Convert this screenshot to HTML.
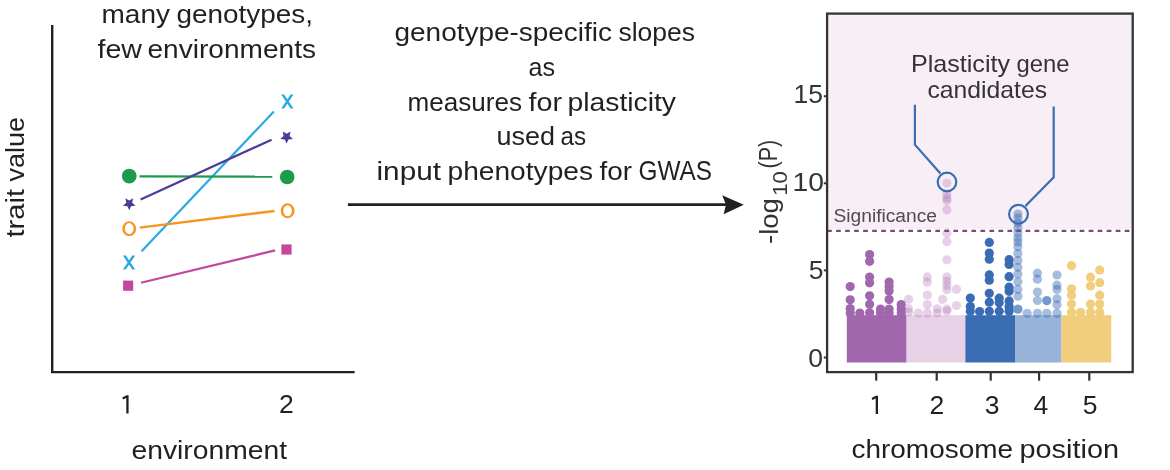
<!DOCTYPE html>
<html><head><meta charset="utf-8"><style>
html,body{margin:0;padding:0;background:#fff;width:1170px;height:470px;overflow:hidden}
svg{display:block;will-change:transform}
text{font-family:"Liberation Sans",sans-serif}
</style></head><body>
<svg width="1170" height="470" viewBox="0 0 1170 470">
<path d="M52.2,25 V372.1 H354.6" fill="none" stroke="#231f20" stroke-width="2.4"/>
<g stroke-width="2.2" fill="none">
<line x1="141.6" y1="251.2" x2="273.9" y2="111.5" stroke="#27aae1"/>
<line x1="139.5" y1="176.3" x2="272.3" y2="176.6" stroke="#1c9c4a"/>
<line x1="140.6" y1="199.6" x2="271.6" y2="139.7" stroke="#4b3c97"/>
<line x1="139.7" y1="227.6" x2="274.5" y2="211" stroke="#f7941d" stroke-width="2.4"/>
<line x1="141" y1="282.8" x2="275.1" y2="250.4" stroke="#c4479b"/>
</g>
<circle cx="129.25" cy="176.1" r="7.4" fill="#1c9c4a"/>
<circle cx="287.2" cy="177" r="7.3" fill="#1c9c4a"/>
<polygon points="129.25,210.30 127.43,206.21 122.97,205.74 126.30,202.74 125.37,198.36 129.25,200.60 133.13,198.36 132.20,202.74 135.53,205.74 131.07,206.21" fill="#4b3c97"/>
<polygon points="286.60,143.60 284.75,139.45 280.23,138.97 283.60,135.93 282.66,131.48 286.60,133.75 290.54,131.48 289.60,135.93 292.97,138.97 288.45,139.45" fill="#4b3c97"/>
<path fill="#f7941d" fill-rule="evenodd" d="M122.3,228.65 a6.9,7.45 0 1,0 13.8,0 a6.9,7.45 0 1,0 -13.8,0 Z M124.8,228.65 a4.4,5.55 0 1,0 8.8,0 a4.4,5.55 0 1,0 -8.8,0 Z"/>
<path fill="#f7941d" fill-rule="evenodd" d="M280.7,210.75 a6.9,7.5 0 1,0 13.8,0 a6.9,7.5 0 1,0 -13.8,0 Z M283.3,210.75 a4.3,5.5 0 1,0 8.6,0 a4.3,5.5 0 1,0 -8.6,0 Z"/>
<path fill="#27aae1" d="M122.9,255.4 L125.80000000000001,255.4 L135.2,269.5 L132.29999999999998,269.5 Z M132.29999999999998,255.4 L135.2,255.4 L125.80000000000001,269.5 L122.9,269.5 Z"/>
<path fill="#27aae1" d="M281.2,94.4 L284.09999999999997,94.4 L293.5,108.5 L290.6,108.5 Z M290.6,94.4 L293.5,94.4 L284.09999999999997,108.5 L281.2,108.5 Z"/>
<rect x="123.1" y="280.6" width="10.1" height="10.2" fill="#c4479b"/>
<rect x="281.4" y="244.4" width="10.2" height="10.2" fill="#c4479b"/>
<line x1="347.9" y1="204.6" x2="732" y2="204.6" stroke="#231f20" stroke-width="2.6"/>
<path d="M743.8,204.7 L722.2,195.2 L726,204.7 L723.6,214.2 Z" fill="#231f20"/>
<rect x="828" y="15" width="303" height="214" fill="#f8eef5"/>
<rect x="846.8" y="315.2" width="59.8" height="47.3" fill="#a067ad"/>
<rect x="906.6" y="315.2" width="58.8" height="47.3" fill="#e7d1e7"/>
<rect x="965.4" y="315.2" width="49.6" height="47.3" fill="#3a6cb4"/>
<rect x="1015" y="315.2" width="46.5" height="47.3" fill="#98b2d9"/>
<rect x="1061.5" y="315.2" width="49.8" height="47.3" fill="#f0ce7c"/>
<g fill="#a067ad" fill-opacity="1.0"><circle cx="850.2" cy="286.6" r="4.6"/><circle cx="850.2" cy="299.8" r="4.6"/><circle cx="850.2" cy="308.5" r="4.6"/><circle cx="850.2" cy="313" r="4.6"/><circle cx="869.6" cy="254.5" r="4.6"/><circle cx="869.6" cy="261.3" r="4.6"/><circle cx="869.6" cy="277" r="4.6"/><circle cx="869.6" cy="282.8" r="4.6"/><circle cx="869.6" cy="295.8" r="4.6"/><circle cx="869.6" cy="304.3" r="4.6"/><circle cx="869.6" cy="312.8" r="4.6"/><circle cx="889.1" cy="282.1" r="4.6"/><circle cx="889.1" cy="286.6" r="4.6"/><circle cx="889.1" cy="291" r="4.6"/><circle cx="889.1" cy="299.6" r="4.6"/><circle cx="889.1" cy="309" r="4.6"/><circle cx="889.1" cy="313" r="4.6"/><circle cx="859.8" cy="313" r="4.6"/><circle cx="880.5" cy="309" r="4.6"/><circle cx="880.5" cy="313" r="4.6"/><circle cx="901.2" cy="304.6" r="4.6"/><circle cx="901.2" cy="309" r="4.6"/><circle cx="901.2" cy="313" r="4.6"/></g>
<g fill="#ac66b2" fill-opacity="0.3"><circle cx="946.9" cy="183" r="4.6"/><circle cx="946.9" cy="194.1" r="4.6"/><circle cx="946.9" cy="197.9" r="4.6"/><circle cx="946.9" cy="200.8" r="4.6"/><circle cx="946.9" cy="209.8" r="4.6"/><circle cx="946.9" cy="233.2" r="4.6"/><circle cx="946.9" cy="241.7" r="4.6"/><circle cx="946.9" cy="259.8" r="4.6"/><circle cx="946.9" cy="276.9" r="4.6"/><circle cx="946.9" cy="281" r="4.6"/><circle cx="946.9" cy="285.4" r="4.6"/><circle cx="946.9" cy="289.7" r="4.6"/><circle cx="946.9" cy="309" r="4.6"/><circle cx="946.9" cy="311" r="4.6"/><circle cx="927.3" cy="276.9" r="4.6"/><circle cx="927.3" cy="282.2" r="4.6"/><circle cx="927.3" cy="295" r="4.6"/><circle cx="927.3" cy="304.6" r="4.6"/><circle cx="927.3" cy="313" r="4.6"/><circle cx="908.5" cy="299.3" r="4.6"/><circle cx="908.5" cy="308.5" r="4.6"/><circle cx="908.5" cy="312" r="4.6"/><circle cx="918.1" cy="313" r="4.6"/><circle cx="937.3" cy="308.8" r="4.6"/><circle cx="937.3" cy="313" r="4.6"/><circle cx="942.6" cy="299.3" r="4.6"/><circle cx="956.5" cy="289.2" r="4.6"/><circle cx="956.5" cy="305.6" r="4.6"/></g>
<g fill="#3a6cb4" fill-opacity="1.0"><circle cx="970.3" cy="298" r="4.6"/><circle cx="970.3" cy="306.5" r="4.6"/><circle cx="970.3" cy="311.3" r="4.6"/><circle cx="979.6" cy="311.5" r="4.6"/><circle cx="989.3" cy="242.4" r="4.6"/><circle cx="989.3" cy="253" r="4.6"/><circle cx="989.3" cy="259.2" r="4.6"/><circle cx="989.3" cy="274.9" r="4.6"/><circle cx="989.3" cy="280.2" r="4.6"/><circle cx="989.3" cy="293.3" r="4.6"/><circle cx="989.3" cy="302.2" r="4.6"/><circle cx="989.3" cy="311.3" r="4.6"/><circle cx="999.2" cy="298.2" r="4.6"/><circle cx="999.2" cy="302.8" r="4.6"/><circle cx="999.2" cy="311.3" r="4.6"/><circle cx="1009.1" cy="259.7" r="4.6"/><circle cx="1009.1" cy="264.5" r="4.6"/><circle cx="1009.1" cy="276.7" r="4.6"/><circle cx="1009.1" cy="287.2" r="4.6"/><circle cx="1009.1" cy="291.3" r="4.6"/><circle cx="1009.1" cy="300.9" r="4.6"/><circle cx="1009.1" cy="306.5" r="4.6"/><circle cx="1009.1" cy="311.3" r="4.6"/></g>
<g fill="#3a6cb4" fill-opacity="0.45"><circle cx="1017.9" cy="214" r="4.6"/><circle cx="1017.9" cy="218" r="4.6"/><circle cx="1017.9" cy="223" r="4.6"/><circle cx="1017.9" cy="228" r="4.6"/><circle cx="1017.9" cy="233" r="4.6"/><circle cx="1017.9" cy="238" r="4.6"/><circle cx="1017.9" cy="242" r="4.6"/><circle cx="1017.9" cy="246.8" r="4.6"/><circle cx="1017.9" cy="253.6" r="4.6"/><circle cx="1017.9" cy="260.5" r="4.6"/><circle cx="1017.9" cy="267.3" r="4.6"/><circle cx="1017.9" cy="274" r="4.6"/><circle cx="1017.9" cy="281.8" r="4.6"/><circle cx="1017.9" cy="289.4" r="4.6"/><circle cx="1017.9" cy="296.2" r="4.6"/><circle cx="1017.9" cy="309" r="4.6"/><circle cx="1017.9" cy="309.3" r="4.6"/><circle cx="1027.2" cy="313.3" r="4.6"/><circle cx="1037.4" cy="273.2" r="4.6"/><circle cx="1037.4" cy="279.2" r="4.6"/><circle cx="1037.4" cy="292" r="4.6"/><circle cx="1037.4" cy="300.5" r="4.6"/><circle cx="1037.4" cy="313.3" r="4.6"/><circle cx="1046.8" cy="300.5" r="4.6"/><circle cx="1046.8" cy="300.8" r="4.6"/><circle cx="1046.8" cy="313.3" r="4.6"/><circle cx="1057" cy="275" r="4.6"/><circle cx="1057" cy="285.2" r="4.6"/><circle cx="1057" cy="289.4" r="4.6"/><circle cx="1057" cy="298.8" r="4.6"/><circle cx="1057" cy="304.8" r="4.6"/><circle cx="1057" cy="313.3" r="4.6"/></g>
<g fill="#f0ce7c" fill-opacity="1.0"><circle cx="1071.5" cy="265.7" r="4.6"/><circle cx="1071.5" cy="288.8" r="4.6"/><circle cx="1071.5" cy="295.2" r="4.6"/><circle cx="1071.5" cy="304" r="4.6"/><circle cx="1071.5" cy="312.3" r="4.6"/><circle cx="1080.6" cy="312.3" r="4.6"/><circle cx="1090.5" cy="277.2" r="4.6"/><circle cx="1090.5" cy="286" r="4.6"/><circle cx="1090.5" cy="304" r="4.6"/><circle cx="1090.5" cy="312.3" r="4.6"/><circle cx="1099.7" cy="270" r="4.6"/><circle cx="1099.7" cy="282.7" r="4.6"/><circle cx="1099.7" cy="295.2" r="4.6"/><circle cx="1099.7" cy="304" r="4.6"/><circle cx="1099.7" cy="312.3" r="4.6"/></g>
<line x1="828" y1="230.9" x2="1131" y2="230.9" stroke="#7c4a7a" stroke-width="2.1" stroke-dasharray="4.7 4.32" stroke-dashoffset="0.92"/>
<path d="M914.9,104.7 V144.7 L940.4,173.4" fill="none" stroke="#3a6cb4" stroke-width="2.2"/>
<circle cx="947" cy="182" r="9.3" fill="none" stroke="#3a6cb4" stroke-width="2.2"/>
<path d="M1053.7,106.5 V177.3 L1025.5,206" fill="none" stroke="#3a6cb4" stroke-width="2.2"/>
<circle cx="1018.5" cy="214.2" r="9.4" fill="none" stroke="#3a6cb4" stroke-width="2.2"/>
<rect x="827.1" y="13.6" width="305.6" height="358.5" fill="none" stroke="#333333" stroke-width="2.3"/>
<line x1="823.8" y1="96.2" x2="827" y2="96.2" stroke="#333333" stroke-width="2"/>
<line x1="823.8" y1="183.3" x2="827" y2="183.3" stroke="#333333" stroke-width="2"/>
<line x1="823.8" y1="270.4" x2="827" y2="270.4" stroke="#333333" stroke-width="2"/>
<line x1="823.8" y1="357.5" x2="827" y2="357.5" stroke="#333333" stroke-width="2"/>
<line x1="876.2" y1="372" x2="876.2" y2="380.7" stroke="#333333" stroke-width="2.2"/>
<line x1="936.7" y1="372" x2="936.7" y2="380.7" stroke="#333333" stroke-width="2.2"/>
<line x1="990.7" y1="372" x2="990.7" y2="380.7" stroke="#333333" stroke-width="2.2"/>
<line x1="1039.1" y1="372" x2="1039.1" y2="380.7" stroke="#333333" stroke-width="2.2"/>
<line x1="1089.3" y1="372" x2="1089.3" y2="380.7" stroke="#333333" stroke-width="2.2"/>
<path fill="#231f20" d="M128.6,395.3 L128.6,413.5 L126.3,413.5 L126.3,398.1 L123.0,399.5 L122.3,397.40000000000003 L126.5,395.3 Z"/>
<path fill="#231f20" d="M878.0,395.8 L878.0,414.0 L875.7,414.0 L875.7,398.6 L872.3000000000001,400.0 L871.6,397.90000000000003 L875.9000000000001,395.8 Z"/>
<text x="101.5" y="23" font-size="26" fill="#231f20" text-anchor="start" textLength="68.5" lengthAdjust="spacingAndGlyphs" id="t_many_0">many</text>
<text x="176.5" y="23" font-size="26" fill="#231f20" text-anchor="start" textLength="136.5" lengthAdjust="spacingAndGlyphs" id="t_many_1">genotypes,</text>
<text x="97.5" y="57.5" font-size="26" fill="#231f20" text-anchor="start" textLength="44.5" lengthAdjust="spacingAndGlyphs" id="t_few_0">few</text>
<text x="147.5" y="57.5" font-size="26" fill="#231f20" text-anchor="start" textLength="168.5" lengthAdjust="spacingAndGlyphs" id="t_few_1">environments</text>
<text x="279.1" y="413.3" font-size="26.5" fill="#231f20" text-anchor="start" id="t_l2">2</text>
<text x="131.5" y="458.9" font-size="26" fill="#231f20" text-anchor="start" textLength="155.5" lengthAdjust="spacingAndGlyphs" id="t_env">environment</text>
<text x="394.5" y="41.3" font-size="26" fill="#231f20" text-anchor="start" textLength="217.5" lengthAdjust="spacingAndGlyphs" id="t_m1_0">genotype-specific</text>
<text x="618.5" y="41.3" font-size="26" fill="#231f20" text-anchor="start" textLength="76.5" lengthAdjust="spacingAndGlyphs" id="t_m1_1">slopes</text>
<text x="528.5" y="75.8" font-size="26" fill="#231f20" text-anchor="start" textLength="26.5" lengthAdjust="spacingAndGlyphs" id="t_m2">as</text>
<text x="407.5" y="110.8" font-size="26" fill="#231f20" text-anchor="start" textLength="114.5" lengthAdjust="spacingAndGlyphs" id="t_m3_0">measures</text>
<text x="528.5" y="110.8" font-size="26" fill="#231f20" text-anchor="start" textLength="33.5" lengthAdjust="spacingAndGlyphs" id="t_m3_1">for</text>
<text x="567.5" y="110.8" font-size="26" fill="#231f20" text-anchor="start" textLength="108.5" lengthAdjust="spacingAndGlyphs" id="t_m3_2">plasticity</text>
<text x="496.5" y="145.4" font-size="26" fill="#231f20" text-anchor="start" textLength="58.5" lengthAdjust="spacingAndGlyphs" id="t_m4_0">used</text>
<text x="560.5" y="145.4" font-size="26" fill="#231f20" text-anchor="start" textLength="25.5" lengthAdjust="spacingAndGlyphs" id="t_m4_1">as</text>
<text x="376.5" y="180" font-size="26" fill="#231f20" text-anchor="start" textLength="64.5" lengthAdjust="spacingAndGlyphs" id="t_m5_0">input</text>
<text x="447.5" y="180" font-size="26" fill="#231f20" text-anchor="start" textLength="145.5" lengthAdjust="spacingAndGlyphs" id="t_m5_1">phenotypes</text>
<text x="599.5" y="180" font-size="26" fill="#231f20" text-anchor="start" textLength="32.5" lengthAdjust="spacingAndGlyphs" id="t_m5_2">for</text>
<text x="638.5" y="180" font-size="27.5" fill="#231f20" text-anchor="start" textLength="73.5" lengthAdjust="spacingAndGlyphs" id="t_m5_3">GWAS</text>
<text x="929.5" y="414" font-size="26.5" fill="#231f20" text-anchor="start" id="t_r2">2</text>
<text x="984.7" y="413.7" font-size="26.5" fill="#231f20" text-anchor="start" id="t_r3">3</text>
<text x="1033.4" y="414" font-size="26.5" fill="#231f20" text-anchor="start" id="t_r4">4</text>
<text x="1082.85" y="414" font-size="26.5" fill="#231f20" text-anchor="start" id="t_r5">5</text>
<text x="851.5" y="457.7" font-size="26" fill="#231f20" text-anchor="start" textLength="161.5" lengthAdjust="spacingAndGlyphs" id="t_chrom_0">chromosome</text>
<text x="1019.5" y="457.7" font-size="26" fill="#231f20" text-anchor="start" textLength="99.5" lengthAdjust="spacingAndGlyphs" id="t_chrom_1">position</text>
<text x="833.5" y="221.6" font-size="18" fill="#4d4d4d" text-anchor="start" textLength="103.5" lengthAdjust="spacingAndGlyphs" id="t_sig">Significance</text>
<text x="911.0" y="72" font-size="24" fill="#333333" text-anchor="start" textLength="99.0" lengthAdjust="spacingAndGlyphs" id="t_pg1_0">Plasticity</text>
<text x="1016.5" y="72" font-size="24" fill="#333333" text-anchor="start" textLength="53.0" lengthAdjust="spacingAndGlyphs" id="t_pg1_1">gene</text>
<text x="927.5" y="97.8" font-size="24" fill="#333333" text-anchor="start" textLength="119.5" lengthAdjust="spacingAndGlyphs" id="t_pg2">candidates</text>
<text x="793.5" y="102.9" font-size="26.5" fill="#333333" text-anchor="start" textLength="29.5" lengthAdjust="spacingAndGlyphs" id="t_y15">15</text>
<text x="792.5" y="191.1" font-size="26.5" fill="#333333" text-anchor="start" textLength="31.5" lengthAdjust="spacingAndGlyphs" id="t_y10">10</text>
<text x="808.75" y="279" font-size="26.5" fill="#333333" text-anchor="start" id="t_y5">5</text>
<text x="808.3" y="366.8" font-size="26.5" fill="#333333" text-anchor="start" id="t_y0">0</text>
<g transform="translate(24,240) rotate(-90)"><text x="2.5" y="0" font-size="26.5" fill="#231f20" text-anchor="start" textLength="48.5" lengthAdjust="spacingAndGlyphs" id="t_trait_0">trait</text></g>
<g transform="translate(24,240) rotate(-90)"><text x="58.5" y="0" font-size="26.5" fill="#231f20" text-anchor="start" textLength="64.5" lengthAdjust="spacingAndGlyphs" id="t_trait_1">value</text></g>
<g transform="translate(778.1,245) rotate(-90)"><text x="1.0" y="0" font-size="26.5" fill="#333333" text-anchor="start" textLength="45.9" lengthAdjust="spacingAndGlyphs" id="t_ylog">-log</text></g>
<g transform="translate(786.7,245) rotate(-90)"><text x="49.3" y="0" font-size="21" fill="#333333" text-anchor="start" textLength="24.5" lengthAdjust="spacingAndGlyphs" id="t_y10sub">10</text></g>
<g transform="translate(777.2,245) rotate(-90)"><text x="76.5" y="0" font-size="26" fill="#333333" text-anchor="start" textLength="28.6" lengthAdjust="spacingAndGlyphs" id="t_yP">(P)</text></g>
</svg>
</body></html>
